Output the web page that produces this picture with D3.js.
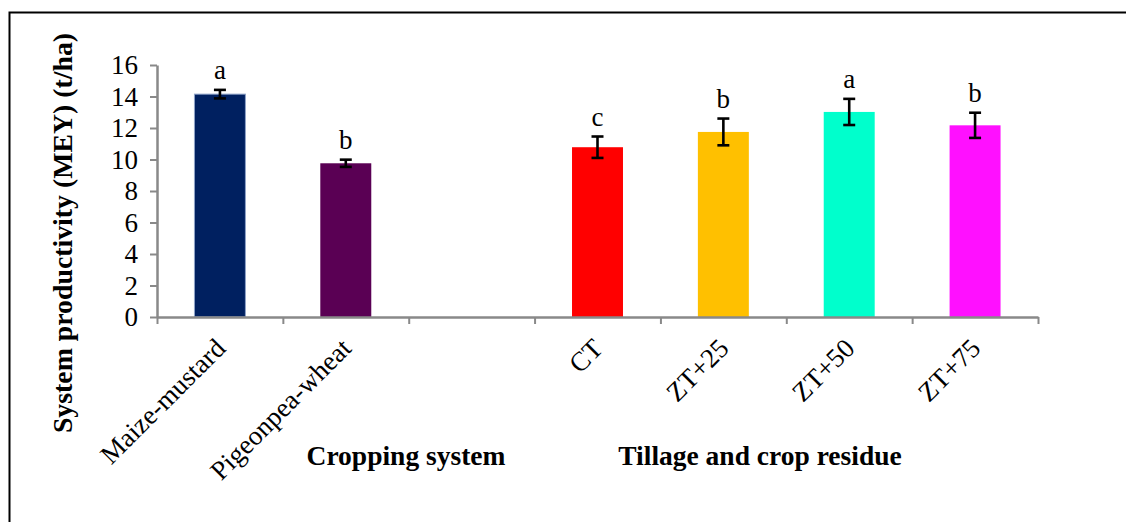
<!DOCTYPE html>
<html>
<head>
<meta charset="utf-8">
<script src="https://cdn.jsdelivr.net/npm/d3@7"></script>
<style>
  body { margin: 0; background: #fff; }
  svg text { font-family: "Liberation Serif", "Times New Roman", serif; fill: #000; }
</style>
</head>
<body>
<svg width="1126" height="522"></svg>
<script>
// values
var categories = ["Maize-mustard", "Pigeonpea-wheat", "", "CT", "ZT+25", "ZT+50", "ZT+75"];
var means = [14.15, 9.76, null, 10.78, 11.75, 13.02, 12.17];
var errors = [0.27, 0.23, null, 0.68, 0.85, 0.83, 0.8];
var letters = ["a", "b", "", "c", "b", "a", "b"];
var colors = ["#002060", "#5A0054", "none", "#FF0000", "#FFC000", "#00FFCC", "#FF10FF"];
var yTicks = [0, 2, 4, 6, 8, 10, 12, 14, 16];
var groupLabels = [
    { text: "Cropping system", x: 406 },
    { text: "Tillage and crop residue", x: 760 }
];

function main() {
    var svg = d3.select("svg"),
        left = 157, right = 1038,
        top = 65, bottom = 317,
        fs = "27px";

    // outer frame (runs off the right and bottom edges like the source)
    svg.append("rect")
        .attr("x", 9.5).attr("y", 12.5)
        .attr("width", 1200).attr("height", 600)
        .attr("fill", "none")
        .attr("stroke", "#000")
        .attr("stroke-width", 2);

    var x = d3.scaleBand().domain(d3.range(categories.length))
        .range([left, right]).paddingInner(0.595).paddingOuter(0.2975);
    var y = d3.scaleLinear().domain([0, 16]).range([bottom, top]);

    var data = categories.map(function (c, i) {
        return { name: c, mean: means[i], err: errors[i], letter: letters[i], color: colors[i], i: i };
    }).filter(function (d) { return d.mean !== null; });

    // bars
    svg.selectAll(".bar").data(data).enter().append("rect")
        .attr("class", "bar")
        .attr("x", function (d) { return x(d.i); })
        .attr("width", x.bandwidth())
        .attr("y", function (d) { return y(d.mean); })
        .attr("height", function (d) { return y(0) - y(d.mean); })
        .attr("fill", function (d) { return d.color; })
        .attr("stroke", function (d) { return d.i === 0 ? "#8FA3C8" : "none"; })
        .attr("stroke-width", 1);

    // y axis
    var yAxis = svg.append("g")
        .attr("transform", "translate(" + left + ",0)")
        .call(d3.axisLeft(y).tickValues(yTicks).tickSize(7).tickSizeOuter(0).tickPadding(12));
    yAxis.select(".domain").attr("stroke", "#898989").attr("stroke-width", 2.5);
    yAxis.selectAll(".tick line").attr("stroke", "#898989").attr("stroke-width", 2);
    yAxis.selectAll(".tick text")
        .style("font-family", "Liberation Serif")
        .style("font-size", fs)
        .attr("fill", "#000");

    // x axis: ticks between categories, as in Excel
    var xEdges = d3.scaleLinear().domain([0, categories.length]).range([left, right]);
    var xAxis = svg.append("g")
        .attr("transform", "translate(0," + bottom + ")")
        .call(d3.axisBottom(xEdges).ticks(categories.length).tickSize(7).tickSizeOuter(0).tickFormat(""));
    xAxis.select(".domain").attr("stroke", "#898989").attr("stroke-width", 2.5);
    xAxis.selectAll(".tick line").attr("stroke", "#898989").attr("stroke-width", 2);

    // rotated category labels
    svg.selectAll(".cat").data(categories.map(function (c, i) { return { name: c, i: i }; })
            .filter(function (d) { return d.name !== ""; }))
        .enter().append("text")
        .attr("class", "cat")
        .attr("text-anchor", "end")
        .attr("transform", function (d) {
            var cx = x(d.i) + x.bandwidth() / 2 + 7;
            return "translate(" + cx + "," + (bottom + 33) + ") rotate(-45)";
        })
        .style("font-size", fs)
        .text(function (d) { return d.name; });

    // error bars
    var eb = svg.selectAll(".err").data(data).enter().append("g").attr("class", "err")
        .attr("stroke", "#000").attr("stroke-width", 2.6);
    eb.append("line")
        .attr("x1", function (d) { return x(d.i) + x.bandwidth() / 2; })
        .attr("x2", function (d) { return x(d.i) + x.bandwidth() / 2; })
        .attr("y1", function (d) { return y(d.mean + d.err); })
        .attr("y2", function (d) { return y(d.mean - d.err); });
    [1, -1].forEach(function (s) {
        eb.append("line")
            .attr("x1", function (d) { return x(d.i) + x.bandwidth() / 2 - 6; })
            .attr("x2", function (d) { return x(d.i) + x.bandwidth() / 2 + 6; })
            .attr("y1", function (d) { return y(d.mean + s * d.err); })
            .attr("y2", function (d) { return y(d.mean + s * d.err); });
    });

    // significance letters
    svg.selectAll(".letter").data(data).enter().append("text")
        .attr("class", "letter")
        .attr("text-anchor", "middle")
        .attr("x", function (d) { return x(d.i) + x.bandwidth() / 2; })
        .attr("y", function (d) { return y(d.mean + d.err) - 11; })
        .style("font-size", fs)
        .text(function (d) { return d.letter; });

    // y title
    svg.append("text")
        .attr("transform", "translate(72,233) rotate(-90)")
        .attr("text-anchor", "middle")
        .style("font-size", "27.8px")
        .style("font-weight", "bold")
        .text("System productivity (MEY) (t/ha)");

    // group labels
    svg.selectAll(".group").data(groupLabels).enter().append("text")
        .attr("class", "group")
        .attr("text-anchor", "middle")
        .attr("x", function (d) { return d.x; })
        .attr("y", 465)
        .style("font-size", "27.5px")
        .style("font-weight", "bold")
        .text(function (d) { return d.text; });
}
main();
</script>
</body>
</html>
